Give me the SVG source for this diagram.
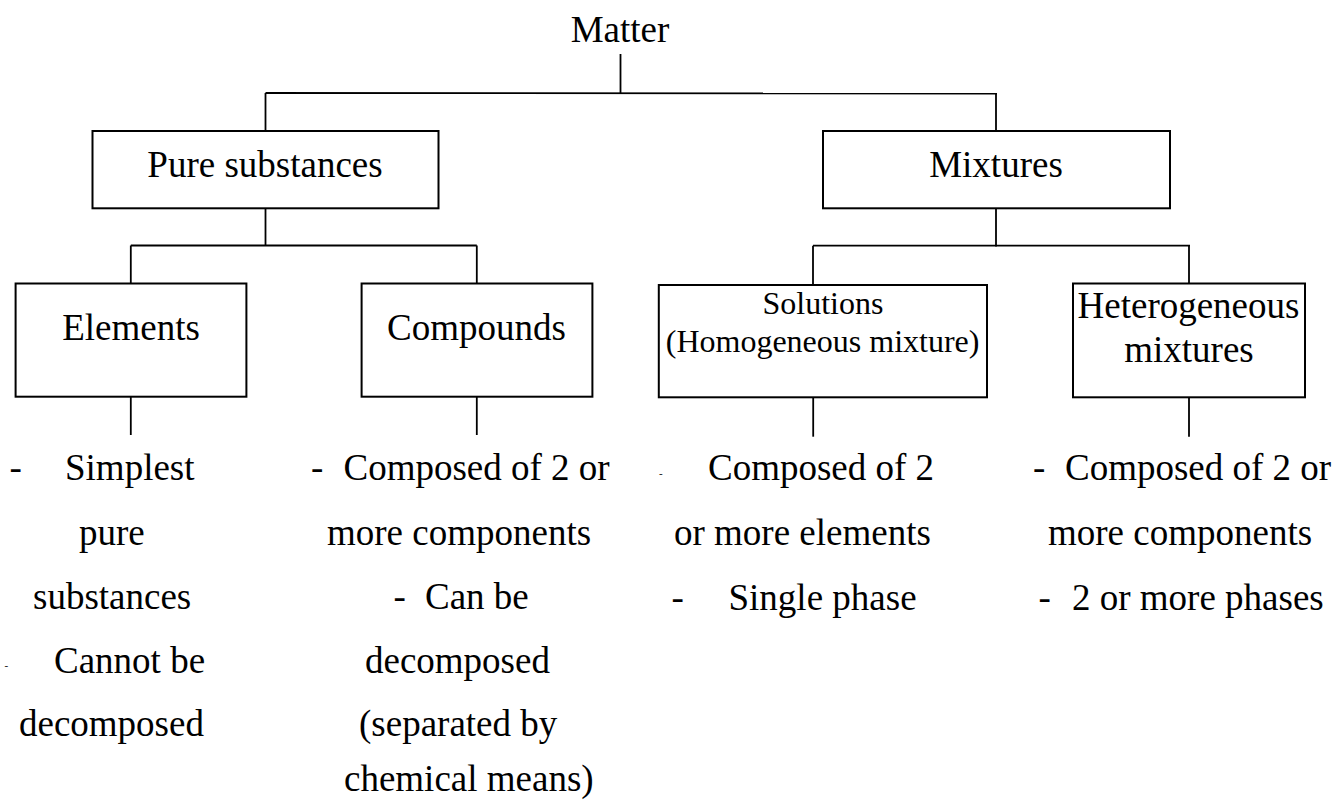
<svg xmlns="http://www.w3.org/2000/svg" width="1338" height="807" viewBox="0 0 1338 807">
<style>
  .t { font-family: 'Liberation Serif', Tinos, 'Times New Roman', Times, 'DejaVu Serif', serif; font-size: 37px; fill: #000; }
  .s { font-family: 'Liberation Serif', Tinos, 'Times New Roman', Times, 'DejaVu Serif', serif; font-size: 32px; fill: #000; }
  .d { font-family: 'Liberation Serif', Tinos, 'Times New Roman', Times, 'DejaVu Serif', serif; font-size: 11px; fill: #000; }
  .c { text-anchor: middle; }
  .box { fill: #fff; stroke: #000; stroke-width: 2; }
  .ln { stroke: #000; stroke-width: 1.8; fill: none; }
</style>
<rect width="1338" height="807" fill="#fff"/>
<g id="connectors">
  <line class="ln" x1="620.5" y1="54" x2="620.5" y2="93.5"/>
  <line class="ln" x1="265.5" y1="93" x2="997" y2="93.5"/>
  <line class="ln" x1="265.5" y1="93" x2="265.5" y2="131"/>
  <line class="ln" x1="996" y1="93.5" x2="996" y2="131"/>
  <line class="ln" x1="265.5" y1="208" x2="265.5" y2="246"/>
  <line class="ln" x1="130.8" y1="245.5" x2="476.8" y2="245.5"/>
  <line class="ln" x1="130.8" y1="245.5" x2="130.8" y2="283.5"/>
  <line class="ln" x1="476.8" y1="245.5" x2="476.8" y2="283.5"/>
  <line class="ln" x1="996" y1="208" x2="996" y2="246.5"/>
  <line class="ln" x1="813" y1="245.7" x2="1190" y2="245.7"/>
  <line class="ln" x1="813" y1="245.7" x2="813" y2="285"/>
  <line class="ln" x1="1189" y1="245.7" x2="1189" y2="283.5"/>
  <line class="ln" x1="130.8" y1="396.7" x2="130.8" y2="435"/>
  <line class="ln" x1="476.8" y1="396.7" x2="476.8" y2="435"/>
  <line class="ln" x1="813.2" y1="397.3" x2="813.2" y2="436.7"/>
  <line class="ln" x1="1189" y1="397.3" x2="1189" y2="436.7"/>
</g>
<g id="matter">
  <text class="t c" x="620" y="41.7" font-family="Liberation Serif, serif">Matter</text>
</g>
<g id="pure-substances">
  <rect class="box" x="92.5" y="131" width="346" height="77.3"/>
  <text class="t c" x="265" y="176.7">Pure substances</text>
</g>
<g id="mixtures">
  <rect class="box" x="823" y="131" width="347" height="77.3"/>
  <text class="t c" x="996" y="176.7">Mixtures</text>
</g>
<g id="elements">
  <rect class="box" x="15.6" y="283.5" width="230.8" height="113.2"/>
  <text class="t c" x="131" y="340">Elements</text>
</g>
<g id="compounds">
  <rect class="box" x="361.6" y="283.5" width="230.8" height="113.2"/>
  <text class="t c" x="476.5" y="340">Compounds</text>
</g>
<g id="solutions">
  <rect class="box" x="658.8" y="285" width="328.2" height="112.3"/>
  <text class="s c" x="823" y="314.3">Solutions</text>
  <text class="s c" x="822.6" y="351.7">(Homogeneous mixture)</text>
</g>
<g id="heterogeneous">
  <rect class="box" x="1073" y="283.5" width="232" height="113.8"/>
  <text class="t c" x="1188.5" y="318.3">Heterogeneous</text>
  <text class="t c" x="1189" y="361.7">mixtures</text>
</g>
<g id="elements-notes">
  <text class="t" x="9.5" y="480">-</text>
  <text class="t" x="65" y="480">Simplest</text>
  <text class="t" x="79" y="545">pure</text>
  <text class="t" x="33" y="609">substances</text>
  <text class="d" x="4.5" y="669">-</text>
  <text class="t" x="54" y="673">Cannot be</text>
  <text class="t" x="19" y="736">decomposed</text>
</g>
<g id="compounds-notes">
  <text class="t" x="311" y="480">-</text>
  <text class="t" x="343.5" y="480">Composed of 2 or</text>
  <text class="t" x="327" y="545">more components</text>
  <text class="t" x="393.5" y="609">-</text>
  <text class="t" x="425" y="609">Can be</text>
  <text class="t" x="365" y="673">decomposed</text>
  <text class="t" x="359" y="736">(separated by</text>
  <text class="t" x="344" y="791">chemical means)</text>
</g>
<g id="solutions-notes">
  <text class="d" x="659" y="477">-</text>
  <text class="t" x="708" y="480">Composed of 2</text>
  <text class="t" x="674" y="545">or more elements</text>
  <text class="t" x="671.5" y="610">-</text>
  <text class="t" x="728.5" y="610">Single phase</text>
</g>
<g id="heterogeneous-notes">
  <text class="t" x="1033" y="480">-</text>
  <text class="t" x="1065" y="480">Composed of 2 or</text>
  <text class="t" x="1048" y="545">more components</text>
  <text class="t" x="1038.5" y="610">-</text>
  <text class="t" x="1072" y="610">2 or more phases</text>
</g>
</svg>
